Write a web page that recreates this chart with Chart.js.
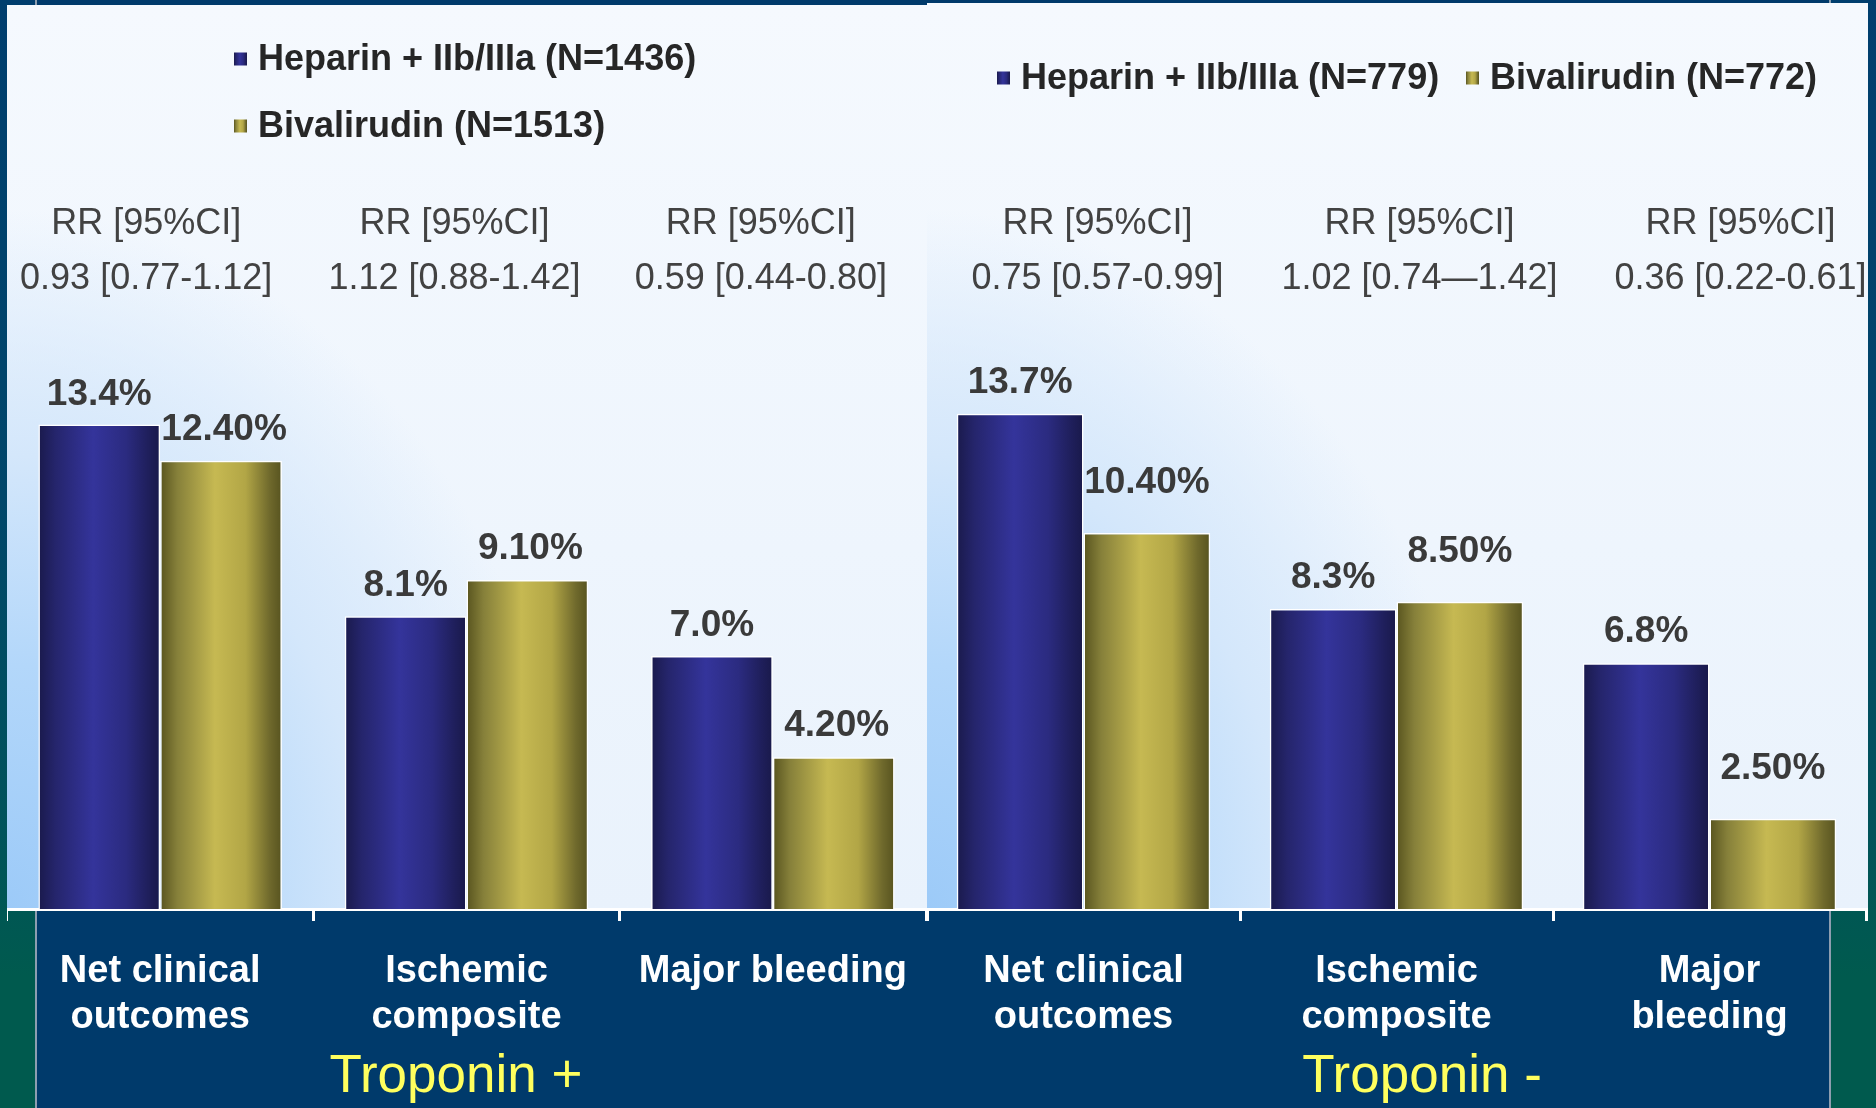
<!DOCTYPE html>
<html>
<head>
<meta charset="utf-8">
<title>Troponin subgroups: Heparin + IIb/IIIa vs Bivalirudin</title>
<script src="https://cdn.jsdelivr.net/npm/chart.js@4.4.1/dist/chart.umd.min.js"></script>
<style>
  html, body { margin: 0; padding: 0; }
  body {
    width: 1876px; height: 1108px; position: relative; overflow: hidden;
    background: linear-gradient(180deg, #003e6e 0%, #00466a 45%, #00535a 75%, #005a4e 88%, #005a4e 100%);
  }
  #labelBox {
    position: absolute; left: 35px; top: 0; width: 1796px; height: 1108px;
    background: #003a6b; border-left: 2px solid #8d9eb0; border-right: 2px solid #8d9eb0;
    box-sizing: border-box;
  }
  .panel {
    position: absolute;
    background:
      radial-gradient(ellipse 560px 700px at 0% 100%, #9ccaf8 0%, #b3d7fa 35%, #d4e7fb 65%, rgba(238,245,253,0) 100%),
      linear-gradient(180deg, #f5f9fe 0%, #eef5fd 60%, #e9f2fc 100%);
  }
  #panelPos { left: 7px; top: 5px; width: 920px; height: 905px; }
  #panelNeg { left: 927px; top: 3px; width: 941px; height: 907px; }
  .wrap { position: absolute; top: 0; height: 1108px; }
  #wrapPos { left: 7px; width: 920px; }
  #wrapNeg { left: 927px; width: 941px; }
</style>
</head>
<body>
<div id="labelBox"></div>
<div class="panel" id="panelPos"></div>
<div class="panel" id="panelNeg"></div>
<div class="wrap" id="wrapPos"><canvas id="chartPos" width="920" height="1108"></canvas></div>
<div class="wrap" id="wrapNeg"><canvas id="chartNeg" width="941" height="1108"></canvas></div>

<script>
// ---- data ----
const categoriesPos = [['Net clinical', 'outcomes'], ['Ischemic', 'composite'], 'Major bleeding'];
const categoriesNeg = [['Net clinical', 'outcomes'], ['Ischemic', 'composite'], ['Major', 'bleeding']];

const heparinPos = [13.4, 8.1, 7.0];
const bivalirudinPos = [12.4, 9.1, 4.2];
const heparinNeg = [13.7, 8.3, 6.8];
const bivalirudinNeg = [10.4, 8.5, 2.5];

const seriesPos = ['Heparin + IIb/IIIa (N=1436)', 'Bivalirudin (N=1513)'];
const seriesNeg = ['Heparin + IIb/IIIa (N=779)', 'Bivalirudin (N=772)'];

const rrHeader = 'RR [95%CI]';
const rrPos = ['0.93 [0.77-1.12]', '1.12 [0.88-1.42]', '0.59 [0.44-0.80]'];
const rrNeg = ['0.75 [0.57-0.99]', '1.02 [0.74\u20141.42]', '0.36 [0.22-0.61]'];

const groupPos = 'Troponin +';
const groupNeg = 'Troponin -';

// ---- styling ----
const FONT = "'Liberation Sans', Arial, Helvetica, sans-serif";
const shadeStops = [
  [[0, '#1a1a4c'], [0.14, '#25256c'], [0.45, '#34349b'], [0.72, '#2b2b80'], [0.9, '#1f1f5c'], [1, '#19194a']],
  [[0, '#58541f'], [0.14, '#86803a'], [0.45, '#c6b952'], [0.7, '#b2a646'], [0.9, '#6f692c'], [1, '#57531f']]
];
const flatColors = ['#2c2c8a', '#b5a945'];

// Paints each bar with a horizontal cylinder-like shade, based on the bar's own geometry.
const barShade = {
  id: 'barShade',
  beforeDatasetsDraw(chart) {
    const ctx = chart.ctx;
    chart.data.datasets.forEach((ds, di) => {
      const meta = chart.getDatasetMeta(di);
      meta.data.forEach(bar => {
        const p = bar.getProps(['x', 'width'], true);
        const g = ctx.createLinearGradient(p.x - p.width / 2, 0, p.x + p.width / 2, 0);
        shadeStops[di].forEach(([o, c]) => g.addColorStop(o, c));
        bar.options = Object.assign({}, bar.options, { backgroundColor: g });
      });
    });
  }
};

// Value labels above bars, legend, RR rows and the subgroup caption.
const panelText = {
  id: 'panelText',
  afterDatasetsDraw(chart, args, opts) {
    const ctx = chart.ctx;
    ctx.save();
    ctx.font = 'bold 37px ' + FONT;
    ctx.fillStyle = '#3a3a3a';
    ctx.textAlign = 'center';
    ctx.textBaseline = 'middle';
    chart.data.datasets.forEach((ds, di) => {
      const meta = chart.getDatasetMeta(di);
      meta.data.forEach((bar, i) => {
        const txt = ds.data[i].toFixed(opts.decimals[di]) + '%';
        ctx.fillText(txt, bar.x + opts.labelShift[di], bar.y - opts.labelGap[di]);
      });
    });
    ctx.restore();
  },
  afterDraw(chart, args, opts) {
    const ctx = chart.ctx;
    const xs = chart.scales.x;
    ctx.save();

    // legend
    ctx.textBaseline = 'middle';
    ctx.textAlign = 'left';
    ctx.font = 'bold 36px ' + FONT;
    chart.data.datasets.forEach((ds, di) => {
      const pos = opts.legendAt[di];
      const s = 13;
      const g = ctx.createLinearGradient(pos.x, 0, pos.x + s, 0);
      shadeStops[di].forEach(([o, c]) => g.addColorStop(o, c));
      ctx.fillStyle = g;
      ctx.fillRect(pos.x, pos.y - s / 2, s, s);
      ctx.fillStyle = '#262626';
      ctx.fillText(ds.label, pos.x + 24, pos.y + 1);
    });

    // relative risk rows
    ctx.textAlign = 'center';
    ctx.font = '36px ' + FONT;
    ctx.fillStyle = '#424242';
    opts.rr.forEach((txt, i) => {
      const cx = xs.getPixelForValue(i) + opts.rrShift[i];
      ctx.fillText(rrHeader, cx, opts.rrRows[0]);
      ctx.fillText(txt, cx, opts.rrRows[1]);
    });

    // subgroup caption
    ctx.font = '53px ' + FONT;
    ctx.fillStyle = '#ffff5e';
    ctx.fillText(opts.caption, opts.captionAt.x, opts.captionAt.y);
    ctx.restore();
  }
};

function makeChart(id, labels, series, blue, gold, extra) {
  return new Chart(document.getElementById(id), {
    type: 'bar',
    data: {
      labels: labels,
      datasets: [
        { label: series[0], data: blue, backgroundColor: flatColors[0] },
        { label: series[1], data: gold, backgroundColor: flatColors[1] }
      ]
    },
    options: {
      responsive: false,
      animation: false,
      events: [],
      layout: { padding: { top: 186, left: 0, right: extra.padRight, bottom: 0 } },
      datasets: {
        bar: {
          barPercentage: 1.0,
          categoryPercentage: extra.catPct,
          borderColor: '#ffffff',
          borderWidth: 1.5,
          borderSkipped: 'bottom'
        }
      },
      scales: {
        x: {
          offset: true,
          grid: {
            display: true, offset: true, drawOnChartArea: false, drawTicks: true,
            tickLength: 12, color: '#ffffff', lineWidth: 3
          },
          border: { display: true, color: '#ffffff', width: 3 },
          ticks: {
            color: '#ffffff', padding: 28, maxRotation: 0, autoSkip: false,
            font: { family: FONT, size: 38, weight: 'bold', lineHeight: 1.21 }
          },
          afterFit(axis) {
            // the axis spans the full panel width; labels stay inside their categories
            axis.height = 199;
            axis.paddingLeft = 0;
            axis.paddingRight = 0;
          }
        },
        y: { display: false, min: 0, max: 20 }
      },
      plugins: {
        legend: { display: false },
        title: { display: false },
        tooltip: { enabled: false },
        panelText: extra.text
      }
    },
    plugins: [barShade, panelText]
  });
}

makeChart('chartPos', categoriesPos, seriesPos, heparinPos, bivalirudinPos, {
  padRight: 1,
  catPct: 0.795,
  text: {
    decimals: [1, 2],
    labelGap: [30, 31],
    labelShift: [0, 3],
    legendAt: [{ x: 227, y: 59 }, { x: 227, y: 126 }],
    rr: rrPos,
    rrShift: [-14, -12, -12],
    rrRows: [224, 279],
    caption: groupPos,
    captionAt: { x: 449, y: 1077 }
  }
});

makeChart('chartNeg', categoriesNeg, seriesNeg, heparinNeg, bivalirudinNeg, {
  padRight: 2,
  catPct: 0.81,
  text: {
    decimals: [1, 2],
    labelGap: [31, 50],
    labelShift: [0, 0],
    legendAt: [{ x: 70, y: 78 }, { x: 539, y: 78 }],
    rr: rrNeg,
    rrShift: [14, 23, 31],
    rrRows: [224, 279],
    caption: groupNeg,
    captionAt: { x: 495, y: 1077 }
  }
});
</script>
</body>
</html>
